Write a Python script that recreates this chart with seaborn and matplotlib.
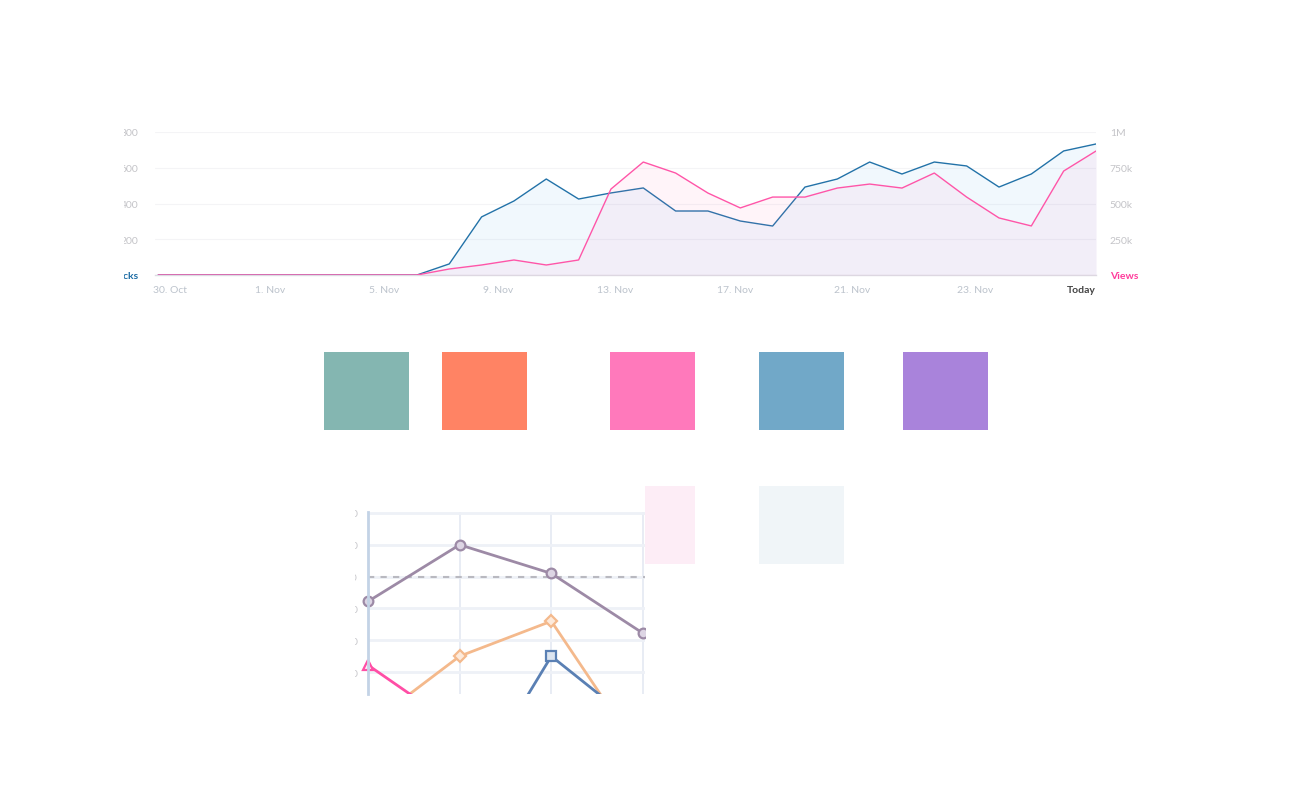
import numpy as np
import pandas as pd
import seaborn as sns
import matplotlib.pyplot as plt
from matplotlib.patches import Rectangle
from matplotlib.transforms import Bbox, TransformedBbox

W, H = 1292, 812

# top chart: daily clicks (left axis) and views (right axis)
days = list(range(30))
clicks = [0, 0, 0, 0, 0, 0, 0, 0, 0, 62, 325, 414, 537, 425, 459, 487, 358, 358, 302, 274,
          492, 537, 632, 565, 632, 610, 492, 565, 694, 733]
views = [0, 0, 0, 0, 0, 0, 0, 0, 0, 42000, 70000, 105000, 70000, 105000, 601000, 790000,
         713000, 573000, 469000, 545000, 545000, 608000, 636000, 608000, 713000, 545000,
         399000, 343000, 727000, 867000]
date_ticks = [0.36, 3.46, 6.98, 10.51, 14.12, 17.85, 21.45, 25.26, 29]
date_labels = ["30. Oct", "1. Nov", "5. Nov", "9. Nov", "13. Nov", "17. Nov", "21. Nov", "23. Nov", "Today"]
click_ticks = [0, 200, 400, 600, 800]
click_labels = ["Clicks", "200", "400", "600", "800"]
view_ticks = [0, 250000, 500000, 750000, 1000000]
view_labels = ["Views", "250k", "500k", "750k", "1M"]

# palette swatches
swatch_colors = ["#84b6b1", "#ff8364", "#ff79bb", "#71a8c8", "#a983db", "#fdedf6", "#f0f5f8"]

# small line chart
cats = [0, 1, 2, 3]
purple_vals = [3.22, 5.0, 4.1, 2.22]
orange_vals = [-0.68, 1.5, 2.6, -1.69]
pink_vals = [1.22, -0.77, -1.5, -1.0]
blue_vals = [-2.0, -3.25, 1.5, -0.8]
ref_level = 4.0

sns.set_style("white")
plt.rcParams["font.family"] = ["Lato", "DejaVu Sans"]

fig = plt.figure(figsize=(W / 100, H / 100), dpi=100)


def box(x0, y0, x1, y1):
    return [x0 / W, 1 - y1 / H, (x1 - x0) / W, (y1 - y0) / H]


def clipper(x0, y0, x1, y1):
    return TransformedBbox(Bbox.from_extents(x0 / W, 1 - y1 / H, x1 / W, 1 - y0 / H), fig.transFigure)


# background layer for the swatches
bg = fig.add_axes([0, 0, 1, 1], zorder=-5)
bg.set_xlim(0, W)
bg.set_ylim(H, 0)
bg.axis("off")
swatch_boxes = [(324, 353, 85, 78), (442, 353, 85, 78), (610, 353, 85, 78), (759, 353, 85, 78),
                (903, 353, 85, 78), (645, 487, 50, 78), (759, 487, 85, 78)]
for (x, y, w, h), c in zip(swatch_boxes, swatch_colors):
    bg.add_patch(Rectangle((x, y), w, h, facecolor=c, edgecolor="none"))

# ---- top area chart
ax = fig.add_axes(box(155, 133, 1096, 276))
ax2 = ax.twinx()
blue_line = "#2272a8"
pink_line = "#ff55a8"

ax.fill_between(days, clicks, color=(0.33, 0.69, 0.92), alpha=0.08, lw=0)
sns.lineplot(x=days, y=clicks, ax=ax, color=blue_line, lw=1.0)
ax2.fill_between(days, views, color=(1.0, 0.45, 0.73), alpha=0.075, lw=0)
sns.lineplot(x=days, y=views, ax=ax2, color=pink_line, lw=1.0)

ax.set_xlim(-0.1, 29)
ax.set_ylim(0, 800)
ax2.set_ylim(0, 1000000)
for a in (ax, ax2):
    for s in a.spines.values():
        s.set_visible(False)
    a.set_xlabel("")
    a.set_ylabel("")
ax.spines["bottom"].set_visible(True)
ax.spines["bottom"].set_color("#dcdce3")
ax.spines["bottom"].set_linewidth(1)
ax.grid(axis="y", color="#f4f4f6", lw=0.8)
ax.grid(axis="x", visible=False)
ax2.grid(False)

ax.set_xticks(date_ticks)
ax.set_xticklabels(date_labels)
ax.tick_params(axis="x", length=0, pad=7, labelsize=7.5, labelcolor="#bcc3cc")
xl = ax.get_xticklabels()
xl[-1].set_ha("right")
xl[-1].set_color("#444444")
xl[-1].set_fontweight("bold")

ax.set_yticks(click_ticks)
ax.set_yticklabels(click_labels)
ax.tick_params(axis="y", length=0, pad=12, labelsize=7.5, labelcolor="#c4c4c8")
left_clip = clipper(124, 0, W, H)
for i, lbl in enumerate(ax.get_yticklabels()):
    lbl.set_clip_box(left_clip)
    lbl.set_clip_on(True)
    if i == 0:
        lbl.set_color("#1f6ea6")
        lbl.set_fontweight("bold")

ax2.set_yticks(view_ticks)
ax2.set_yticklabels(view_labels)
ax2.tick_params(axis="y", length=0, pad=10, labelsize=7.5, labelcolor="#c4c4c8")
vl = ax2.get_yticklabels()
vl[0].set_color("#ff3c9c")
vl[0].set_fontweight("bold")

# ---- small line chart
bx = fig.add_axes(box(368, 513, 645, 695))
bx.set_xlim(0, 3 * 277 / 275)
bx.set_ylim(0.3125, 6.03)
for s in bx.spines.values():
    s.set_visible(False)
bx.spines["left"].set_visible(True)
bx.spines["left"].set_color("#c3d3e6")
bx.spines["left"].set_linewidth(2)
bx.set_xticks([1, 2, 3])
bx.set_xticklabels([])
bx.grid(axis="x", color="#e4e9f2", lw=1.2)
bx.set_yticks([1, 2, 3, 4, 5, 6])
bx.set_yticklabels(["10", "20", "30", "40", "50", "60"])
bx.grid(axis="y", color="#eef1f7", lw=2)
bx.tick_params(axis="x", length=0)
bx.tick_params(axis="y", length=0, pad=7.2, labelsize=7.5, labelcolor="#c8c8cc")
tick_clip = clipper(355, 480, 358, 700)
for lbl in bx.get_yticklabels():
    lbl.set_clip_box(tick_clip)
    lbl.set_clip_on(True)

bx.axhline(ref_level, color="#b9b9c0", lw=1.5, ls=(0, (3, 3)))

series = [
    (purple_vals, "#9d8aa6", "#ddd5e4", "o"),
    (orange_vals, "#f4b98c", "#fdeadb", "D"),
    (pink_vals, "#ff4ea6", "#ffeef6", "^"),
    (blue_vals, "#5a80b4", "#dce5f0", "s"),
]
for vals, col, face, mk in series:
    sns.lineplot(x=cats, y=vals, ax=bx, color=col, lw=2, marker=mk,
                 markersize=7 if mk != "D" else 6, markerfacecolor=face,
                 markeredgecolor=col, markeredgewidth=1.6)
line_clip = clipper(350, 480, 645, 695)
for ln in bx.get_lines():
    ln.set_clip_box(line_clip)
bx.set_xlabel("")
bx.set_ylabel("")

fig.savefig("out.png", dpi=100, facecolor="white")
